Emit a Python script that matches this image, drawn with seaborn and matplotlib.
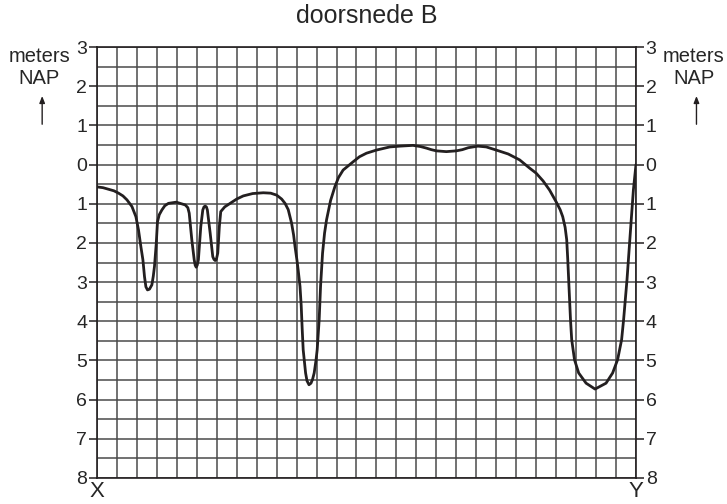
import numpy as np
import pandas as pd
import matplotlib
matplotlib.use("Agg")
import matplotlib.pyplot as plt
import seaborn as sns

# --- Data read from the cross-section (x in grid columns, height in m NAP) ---
dist = [0.0, 0.3, 0.58, 0.85, 1.08, 1.3, 1.5, 1.75, 1.95, 2.08, 2.2, 2.3,
        2.38, 2.45, 2.53, 2.63, 2.75, 2.82, 2.88, 2.97, 3.03, 3.12, 3.25,
        3.4, 3.58, 3.97, 4.42, 4.55, 4.62, 4.75, 4.87, 4.92, 4.97, 5.02,
        5.08, 5.2, 5.3, 5.36, 5.42, 5.48, 5.53, 5.67, 5.8, 5.86, 5.92, 5.98,
        6.05, 6.13, 6.2, 6.4, 6.67, 7.0, 7.33, 7.8, 8.33, 8.7, 9.0, 9.25,
        9.42, 9.58, 9.75, 9.85, 9.92, 10.02, 10.08, 10.17, 10.23, 10.28,
        10.33, 10.45, 10.52, 10.62, 10.72, 10.8, 10.88, 10.97, 11.03, 11.13,
        11.2, 11.3, 11.4, 11.5, 11.7, 11.92, 12.1, 12.33, 12.83, 13.15, 13.5,
        14.0, 14.67, 15.17, 15.83, 16.2, 16.5, 16.75, 17.0, 17.5, 18.0, 18.3,
        18.6, 19.08, 19.5, 20.0, 20.6, 21.17, 21.67, 22.0, 22.35, 22.67,
        23.0, 23.2, 23.33, 23.45, 23.53, 23.58, 23.63, 23.72, 23.78, 23.92,
        24.13, 24.5, 24.95, 25.5, 25.83, 26.08, 26.28, 26.38, 26.55, 26.65,
        26.75, 26.87, 27.0]
height = [-0.57, -0.59, -0.63, -0.67, -0.73, -0.8, -0.9, -1.07, -1.33,
          -1.67, -2.1, -2.43, -2.86, -3.12, -3.2, -3.18, -3.07, -2.85, -2.6,
          -2.01, -1.46, -1.28, -1.16, -1.05, -0.99, -0.96, -1.03, -1.1,
          -1.24, -1.92, -2.43, -2.57, -2.62, -2.57, -2.43, -1.58, -1.16,
          -1.08, -1.06, -1.08, -1.16, -1.75, -2.35, -2.42, -2.45, -2.42,
          -2.26, -1.58, -1.2, -1.08, -0.99, -0.88, -0.8, -0.74, -0.72,
          -0.73, -0.78, -0.88, -0.99, -1.15, -1.5, -1.8, -2.09, -2.45, -2.7,
          -3.11, -3.6, -4.2, -4.73, -5.32, -5.52, -5.62, -5.58, -5.48,
          -5.32, -5.0, -4.73, -3.96, -3.1, -2.26, -1.75, -1.41, -0.92,
          -0.56, -0.33, -0.14, 0.07, 0.2, 0.29, 0.37, 0.45, 0.47, 0.49, 0.46,
          0.42, 0.38, 0.35, 0.33, 0.35, 0.38, 0.43, 0.47, 0.45, 0.37, 0.27,
          0.12, -0.09, -0.22, -0.42, -0.65, -0.95, -1.15, -1.33, -1.6,
          -1.92, -2.4, -2.94, -3.96, -4.47, -4.98, -5.32, -5.58, -5.73,
          -5.58, -5.32, -4.98, -4.47, -3.96, -2.94, -2.2, -1.5, -0.65, 0.0]

y_ticks = [3, 2, 1, 0, -1, -2, -3, -4, -5, -6, -7, -8]
y_tick_labels = [str(abs(v)) for v in y_ticks]

df = pd.DataFrame({"dist": dist, "height": height})

sns.set_style("white")
plt.rcParams["font.family"] = ["Liberation Sans", "DejaVu Sans"]

fig = plt.figure(figsize=(7.27, 5.04), dpi=100)
ax = fig.add_axes([0.1334, 0.0516, 0.7414, 0.8551])

# grid: 1 column in x, 0.5 m in y
for gx in np.arange(0, 28, 1):
    ax.axvline(gx, color="#4a4a4a", lw=1.1, zorder=1)
for gy in np.arange(-8, 3.01, 0.5):
    ax.axhline(gy, color="#4a4a4a", lw=1.1, zorder=1)

sns.lineplot(data=df, x="dist", y="height", sort=False, color="#231f20",
             lw=2.0, ax=ax, zorder=3)

ax.set_xlim(0, 27)
ax.set_ylim(-8, 3)
ax.set_xticks([])
ax.set_yticks(y_ticks)
ax.set_yticklabels(y_tick_labels, fontsize=14)
ax.tick_params(axis="y", left=True, right=True, labelleft=True,
               labelright=True, length=6, width=1.1, color="#231f20",
               direction="out", pad=1)
ax.set_xlabel("")
ax.set_ylabel("")
for s in ax.spines.values():
    s.set_color("#231f20")
    s.set_linewidth(1.2)

fig.text(0.505, 0.968, "doorsnede B", ha="center", va="center", fontsize=18)

# unit labels with arrows on both sides
for xc in [0.054, 0.954]:
    fig.text(xc, 0.887, "meters", ha="center", va="center", fontsize=14.5)
    fig.text(xc, 0.844, "NAP", ha="center", va="center", fontsize=14.5)
    fig.add_artist(matplotlib.patches.FancyArrowPatch(
        (xc + 0.004, 0.748), (xc + 0.004, 0.815), transform=fig.transFigure,
        arrowstyle="-|>,head_length=4,head_width=1.6", color="#231f20",
        lw=1.0))

fig.text(0.1334, 0.0245, "X", ha="center", va="center", fontsize=16)
fig.text(0.875, 0.0245, "Y", ha="center", va="center", fontsize=16)

fig.savefig("out.png", dpi=100)
